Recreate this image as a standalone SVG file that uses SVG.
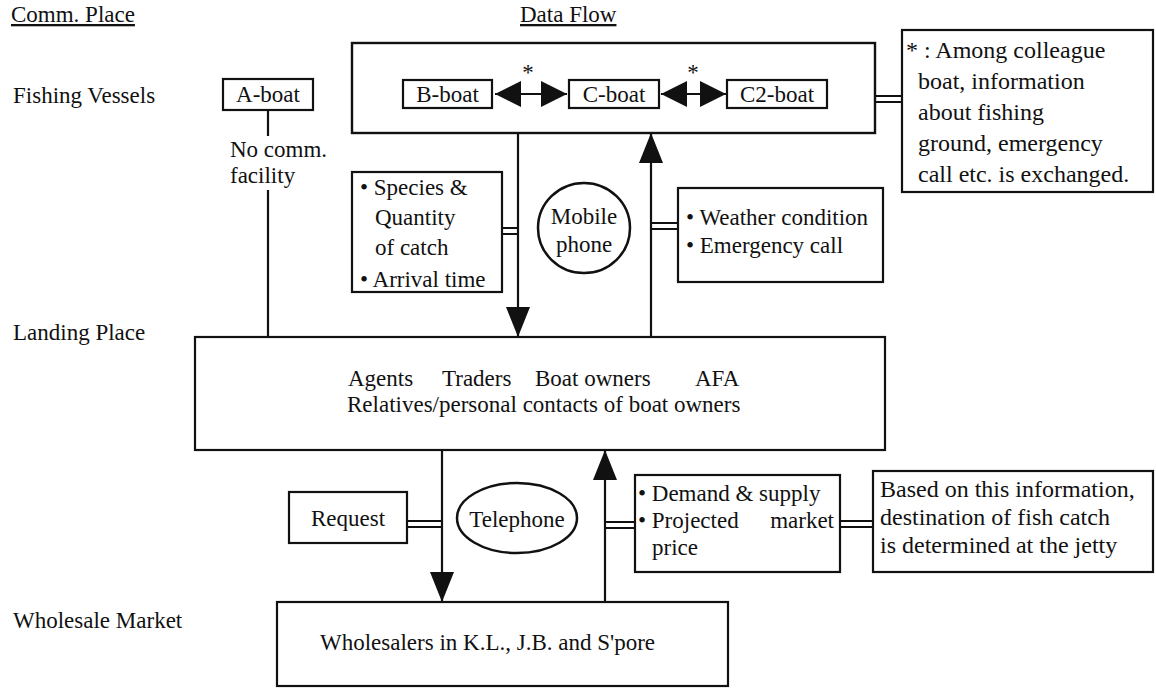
<svg xmlns="http://www.w3.org/2000/svg" width="1156" height="688" viewBox="0 0 1156 688">
<defs>
<style>
text { font-family: "Liberation Serif", "Times New Roman", serif; font-size: 23px; fill: #111; }
.box { fill: #fff; stroke: #111; stroke-width: 2.2; }
.ln { stroke: #111; stroke-width: 2.2; fill: none; }
.dl { stroke: #111; stroke-width: 2; fill: none; }
.u { text-decoration: underline; }
.c { text-anchor: middle; }
.big { font-size: 24px; }
</style>
<marker id="ah" viewBox="0 0 30 24" refX="30" refY="12" markerWidth="30" markerHeight="24" markerUnits="userSpaceOnUse" orient="auto">
<path d="M0,0 L30,12 L0,24 z" fill="#111"/>
</marker>
<marker id="bh" viewBox="0 0 26 26" refX="26" refY="13" markerWidth="26" markerHeight="26" markerUnits="userSpaceOnUse" orient="auto-start-reverse">
<path d="M0,0 L26,13 L0,26 z" fill="#111"/>
</marker>
</defs>
<rect width="1156" height="688" fill="#fff"/>

<g id="headings">
<text x="11" y="22" class="u">Comm. Place</text>
<text x="520" y="22" class="u">Data Flow</text>
</g>
<g id="row-labels">
<text x="13" y="103">Fishing Vessels</text>
<text x="13" y="340">Landing Place</text>
<text x="13" y="628">Wholesale Market</text>
</g>

<g id="connectors">
<line class="ln" x1="268" y1="110" x2="268" y2="136"/>
<line class="ln" x1="268" y1="190" x2="268" y2="337"/>
<line class="ln" x1="495" y1="94" x2="567" y2="94" marker-start="url(#bh)" marker-end="url(#bh)"/>
<line class="ln" x1="661" y1="94" x2="726" y2="94" marker-start="url(#bh)" marker-end="url(#bh)"/>
<line class="ln" x1="518" y1="133" x2="518" y2="337" marker-end="url(#ah)"/>
<line class="ln" x1="651" y1="337" x2="651" y2="133" marker-end="url(#ah)"/>
<line class="ln" x1="442" y1="450" x2="442" y2="602" marker-end="url(#ah)"/>
<line class="ln" x1="605" y1="602" x2="605" y2="450" marker-end="url(#ah)"/>
<path class="dl" d="M875,96 H902 M875,102 H902"/>
<path class="dl" d="M502,228 H518 M502,234 H518"/>
<path class="dl" d="M651,223 H678 M651,229 H678"/>
<path class="dl" d="M407,521 H442 M407,527 H442"/>
<path class="dl" d="M605,522 H635 M605,528 H635"/>
<path class="dl" d="M840,521 H873 M840,527 H873"/>
</g>

<g id="fleet-box">
<rect x="352" y="43" width="523" height="90" fill="none" stroke="#111" stroke-width="2.4"/>
<text x="528" y="80" class="c">*</text>
<text x="693" y="80" class="c">*</text>
</g>
<g id="a-boat">
<rect class="box" x="223" y="79" width="90" height="31"/>
<text x="268" y="102" class="c">A-boat</text>
</g>
<g id="no-comm">
<text x="230" y="157">No comm.</text>
<text x="230" y="183">facility</text>
</g>
<g id="b-boat">
<rect class="box" x="403" y="80" width="89" height="28"/>
<text x="447.5" y="102" class="c">B-boat</text>
</g>
<g id="c-boat">
<rect class="box" x="569" y="80" width="90" height="28"/>
<text x="614" y="102" class="c">C-boat</text>
</g>
<g id="c2-boat">
<rect class="box" x="727" y="80" width="100" height="28"/>
<text x="777" y="102" class="c">C2-boat</text>
</g>
<g id="note">
<rect class="box" x="902" y="30" width="251" height="162"/>
<text x="906" y="58" class="big">* : Among colleague</text>
<text x="918" y="89" class="big">boat, information</text>
<text x="918" y="120" class="big">about fishing</text>
<text x="918" y="151" class="big">ground, emergency</text>
<text x="918" y="182" class="big">call etc. is exchanged.</text>
</g>
<g id="catch-info">
<rect class="box" x="352" y="172" width="150" height="120"/>
<text x="360" y="195">• Species &amp;</text>
<text x="375" y="225">Quantity</text>
<text x="375" y="255">of catch</text>
<text x="360" y="287">• Arrival time</text>
</g>
<g id="mobile-phone">
<ellipse cx="584" cy="228" rx="46" ry="45" fill="#fff" stroke="#111" stroke-width="2.5"/>
<text x="584" y="224" class="c">Mobile</text>
<text x="584" y="252" class="c">phone</text>
</g>
<g id="weather-info">
<rect class="box" x="678" y="188" width="205" height="94"/>
<text x="686" y="225">• Weather condition</text>
<text x="686" y="253">• Emergency call</text>
</g>
<g id="landing">
<rect class="box" x="195" y="337" width="690" height="113"/>
<text x="348" y="386">Agents</text>
<text x="442" y="386">Traders</text>
<text x="535" y="386">Boat owners</text>
<text x="695" y="386">AFA</text>
<text x="347" y="412">Relatives/personal contacts of boat owners</text>
</g>
<g id="request">
<rect class="box" x="289" y="492" width="118" height="51"/>
<text x="348" y="526" class="c">Request</text>
</g>
<g id="telephone">
<ellipse cx="517" cy="518" rx="60" ry="35" fill="#fff" stroke="#111" stroke-width="2.5"/>
<text x="517" y="527" class="c">Telephone</text>
</g>
<g id="market-info">
<rect class="box" x="635" y="475" width="205" height="97"/>
<text x="638" y="501">• Demand &amp; supply</text>
<text x="638" y="528">• Projected</text>
<text x="834" y="528" text-anchor="end">market</text>
<text x="652" y="555">price</text>
</g>
<g id="decision-note">
<rect class="box" x="873" y="471" width="280" height="101"/>
<text x="880" y="497" class="big">Based on this information,</text>
<text x="880" y="525" class="big">destination of fish catch</text>
<text x="880" y="553" class="big">is determined at the jetty</text>
</g>
<g id="wholesale">
<rect class="box" x="277" y="602" width="451" height="84"/>
<text x="320" y="650">Wholesalers in K.L., J.B. and S'pore</text>
</g>
</svg>
